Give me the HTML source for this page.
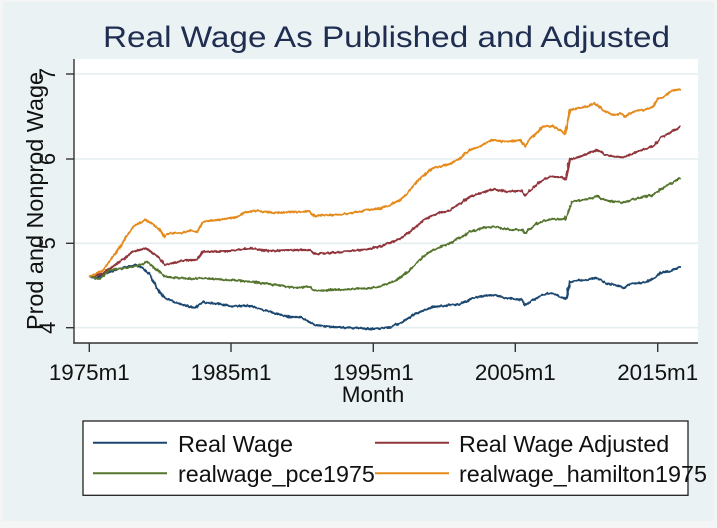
<!DOCTYPE html>
<html><head><meta charset="utf-8"><style>
html,body{margin:0;padding:0;background:#f4f5f5;}
svg{display:block;}
text{font-family:"Liberation Sans",sans-serif;}
</style></head><body>
<svg width="717" height="528" viewBox="0 0 717 528" xmlns="http://www.w3.org/2000/svg">
<defs>
<filter id="jit" x="-5%" y="-5%" width="110%" height="110%" filterUnits="objectBoundingBox">
<feTurbulence type="fractalNoise" baseFrequency="0.35 0.12" numOctaves="2" seed="3" result="n"/>
<feDisplacementMap in="SourceGraphic" in2="n" scale="3" xChannelSelector="R" yChannelSelector="G"/>
</filter>
</defs>
<rect x="0" y="0" width="717" height="528" fill="#f4f5f5"/>
<rect x="3" y="2" width="711" height="519" fill="#eaf2f3"/>
<rect x="74" y="59" width="624" height="284" fill="#ffffff"/>
<!-- gridlines -->
<g stroke="#e4edef" stroke-width="1.6">
<line x1="74" y1="74" x2="698" y2="74"/>
<line x1="74" y1="159" x2="698" y2="159"/>
<line x1="74" y1="243.3" x2="698" y2="243.3"/>
<line x1="74" y1="327.7" x2="698" y2="327.7"/>
</g>
<!-- title -->
<text x="386.5" y="47" font-size="30" fill="#1f2d50" text-anchor="middle" textLength="567" lengthAdjust="spacingAndGlyphs">Real Wage As Published and Adjusted</text>
<!-- series -->
<g fill="none" stroke-width="2.2" stroke-linejoin="round" stroke-linecap="round" filter="url(#jit)">
<polyline stroke="#1a476f" points="90,276.7 95,278 110,272 125,267 136,265 143,268 150,275 158,290 165,298 175,302 183,305 195,308 203,302 213,303 230,306 250,306 270,312 290,317 300,317 315,325 333,327 350,328 377,329 390,327 400,323 417,313 433,307 460,304 473,298 492,295 507,298 522,300 525,305 533,300 540,296 550,293 562,297 566,299 570,282 577,280 587,280 597,278 605,283 615,285 623,288 630,284 647,282 655,278 660,273 670,271 680,267"/>
<polyline stroke="#90353b" points="90,276.7 103,273.3 120,261.7 133,251.7 146,248.3 158,256.7 165,265 177,261.7 190,260 197,260 203,251.7 230,251 250,248.3 270,251 290,250 310,250 315,254 333,252.7 367,249.3 380,246.7 397,240 410,231.7 423,220.7 433,215 450,210 470,196.7 482,192.7 493,189.3 507,191.7 522,190.7 525,195 533,188.3 540,181.7 550,176.7 563,177.3 566,179.3 570,159.3 580,156.7 590,152.7 597,150 605,154.3 615,156.7 623,157.3 633,153.3 647,148.3 655,145 660,138.3 670,132.7 680,126.7"/>
<polyline stroke="#55752f" points="90,276.7 100,278.3 110,270 135,266.7 147,261.7 157,270 165,276.7 180,278.3 203,278.3 230,280 250,281.7 270,284 290,287.3 310,287.3 315,290.7 333,290 367,288.3 380,286.7 397,280 410,270 423,256.7 433,250 450,243.3 470,231.7 482,228.3 493,226.7 507,229.3 522,230 525,233.3 537,223.3 550,219.3 565,219.3 572,201.7 583,200 597,196.7 607,200.7 623,202.7 633,199.3 653,195 660,190 670,184 680,178.3"/>
<polyline stroke="#e58a1a" points="90,276.7 103,270 120,246.7 133,226.7 146,219.3 158,228 165,236.7 170,233 183,233 190,230 197,232 203,221.7 217,220 237,217 247,211.7 257,210.7 270,213 290,211.7 310,211.7 315,216.7 320,215 333,215 350,213.3 367,210 380,208.3 390,205 400,200 410,190 420,178.3 433,168.3 450,164 460,158.3 470,150 482,145 492,140 507,141.7 520,140 525,146.7 530,138.3 538,131.7 542,126.7 553,126 560,130 565,134 570,110 577,108.3 587,106.7 595,103.3 603,110 613,115 622,113.3 625,116.7 633,111.7 647,109.3 653,106.7 658,98.3 663,97.3 672,90.7 680,89.3"/>
</g>
<!-- axes -->
<g stroke="#333333" stroke-width="1.4">
<line x1="74" y1="59" x2="74" y2="343.7"/>
<line x1="73.3" y1="343" x2="698" y2="343"/>
<line x1="66" y1="74" x2="74" y2="74"/>
<line x1="66" y1="159" x2="74" y2="159"/>
<line x1="66" y1="243.3" x2="74" y2="243.3"/>
<line x1="66" y1="327.7" x2="74" y2="327.7"/>
<line x1="89.3" y1="343" x2="89.3" y2="352"/>
<line x1="231" y1="343" x2="231" y2="352"/>
<line x1="373.3" y1="343" x2="373.3" y2="352"/>
<line x1="515.3" y1="343" x2="515.3" y2="352"/>
<line x1="657.7" y1="343" x2="657.7" y2="352"/>
</g>
<!-- y tick labels -->
<g font-size="22" fill="#111" text-anchor="middle">
<text transform="translate(55,74) rotate(-90)">7</text>
<text transform="translate(55,159) rotate(-90)">6</text>
<text transform="translate(55,243.3) rotate(-90)">5</text>
<text transform="translate(55,327.7) rotate(-90)">4</text>
</g>
<text transform="translate(43,201) rotate(-90)" font-size="23" fill="#111" text-anchor="middle" textLength="258" lengthAdjust="spacingAndGlyphs">Prod and Nonprod Wage</text>
<!-- x tick labels -->
<g font-size="22.4" fill="#111" text-anchor="middle">
<text x="89.3" y="380">1975m1</text>
<text x="231" y="380">1985m1</text>
<text x="373.3" y="380">1995m1</text>
<text x="515.3" y="380">2005m1</text>
<text x="657.7" y="380">2015m1</text>
</g>
<text x="373" y="402" font-size="22.5" fill="#111" text-anchor="middle">Month</text>
<!-- legend -->
<rect x="83" y="421" width="605" height="74.3" fill="#ffffff" stroke="#222" stroke-width="1.3"/>
<g stroke-width="2">
<line x1="93" y1="442.7" x2="167" y2="442.7" stroke="#1a476f"/>
<line x1="375" y1="442.7" x2="449" y2="442.7" stroke="#90353b"/>
<line x1="93" y1="473.3" x2="167" y2="473.3" stroke="#55752f"/>
<line x1="375" y1="473.3" x2="449" y2="473.3" stroke="#e58a1a"/>
</g>
<g font-size="23.3" fill="#111">
<text x="178" y="452" textLength="115" lengthAdjust="spacingAndGlyphs">Real Wage</text>
<text x="459" y="452">Real Wage Adjusted</text>
<text x="178" y="482">realwage_pce1975</text>
<text x="459" y="482" textLength="248" lengthAdjust="spacingAndGlyphs">realwage_hamilton1975</text>
</g>
</svg>
</body></html>
